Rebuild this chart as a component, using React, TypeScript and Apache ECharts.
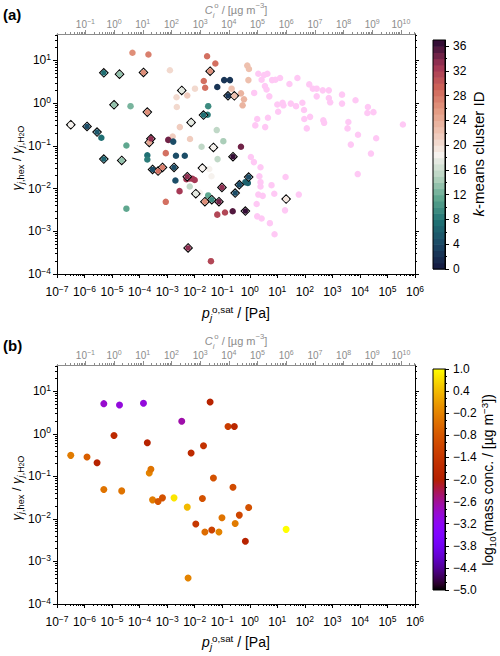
import React, { useEffect, useRef } from 'react';
import * as echarts from 'echarts';

// ---------------- data (stored as log10) ----------------
// Panel (a): compounds drawn in pink (no cluster colour)
const PINK_LOG_P = [0.31, 0.43, 0.52, 0.64, 0.55, 0.61, 0.81, 0.93, 1.1, 0.71, 0.16, 1.44, 1.73, 2.16, 2.29, 2.43, 2.43, 1.0, 1.19, 1.22, 1.49, 1.68, 1.91, 1.97, 1.03, 2.19, 1.98, 2.07, 0.27, 0.66, 0.2, 0.56,
  0.04, 0.15, 0.39, 0.35, 0.39, 0.39, 0.79, 1.3, 0.89, 0.31, 0.47, 0.25, 1.78, 1.28, 0.27, 0.43, 0.73, 0.9,
  2.65, 2.87, 2.87, 2.92, 3.35, 3.35, 3.84, 2.67, 2.7, 3.58, 3.55, 3.93, 3.67, 4.29, 4.27, 4.49, 4.59, 4.4, 5.56, 3.92];
const PINK_LOG_GAMMA = [0.69, 0.55, 0.66, 0.69, 0.4, 0.32, 0.54, 0.55, 0.59, 0.16, 0.24, 0.45, 0.59, 0.44, 0.34, 0.34, 0.16, -0.03, 0.01, -0.05, -0.01, -0.07, 0.01, -0.16, -0.2, -0.32, -0.37, -0.59, -0.37, -0.34, -0.52, -0.56,
  -1.26, -1.38, -1.5, -1.71, -1.85, -1.95, -1.92, -1.73, -2.12, -2.14, -2.17, -2.36, -2.14, -2.51, -2.65, -2.7, -2.81, -3.07,
  0.3, 0.3, 0.12, 0.02, 0.2, -0.01, 0.07, -0.4, -0.46, -0.44, -0.59, -0.74, -0.97, -0.09, -0.23, -0.21, -0.82, -1.18, -0.5, -1.66];

// Panel (a): clustered compounds (plain circles)
const CLUSTER_LOG_P = [-4.26, -3.68, -2.9, -1.55, -1.25, -1.67, -1.62, -2.66, -1.99, -2.27, -2.65, -1.18, -0.93, -0.72, -0.66, -0.32, -0.21, -0.26, -0.09, -0.03,
  -0.05, -1.51, -1.53, -4.33, -5.39, -4.48, -2.54, -2.8, -2.17, -2.96, -2.78, -1.2, -0.96, -1.75, -1.17, -0.32, -3.72, -3.72, -3.05, -2.68,
  -2.36, -2.7, -2.55, -2.3, -2.18, -2.08, -2.0, -2.18, -3.05, -1.51, -1.18, -0.9, -0.62, -1.41, -4.48, -0.16, -0.07, -1.47, -1.39, -1.81];
const CLUSTER_LOG_GAMMA = [1.18, 1.14, 0.77, 1.1, 0.93, 0.52, 0.36, 0.14, 0.34, 0.18, -0.09, 0.38, 0.54, 0.54, 0.34, 0.23, 0.09, -0.05, 0.88, 0.8,
  0.54, -0.07, -0.27, -0.07, -0.81, -0.99, -0.56, -0.78, -0.84, -0.86, -0.9, -0.63, -0.89, -1.02, -1.31, -1.02, -1.22, -1.32, -1.17, -1.23,
  -1.23, -1.81, -2.06, -1.78, -1.76, -1.77, -1.8, -1.95, -2.31, -2.16, -2.61, -2.56, -2.53, -3.7, -2.47, -1.85, -1.87, -1.54, -1.71, -2.1];
const CLUSTER_ID = [26, 27, 20, 28, 28, 28, 28, 20, 20, 21, 20, 2, 2, 2, 22, 23, 23, 23, 22, 22,
  22, 9, 8, 12, 7, 11, 21, 21, 21, 34, 4, 15, 14, 15, 15, 34, 7, 8, 28, 4,
  4, 4, 32, 32, 32, 32, 32, 15, 28, 11, 31, 31, 35, 31, 11, 6, 6, 18, 18, 18];

// Compounds shown as diamonds in (a) and as the points of (b)
const FLAG_LOG_P = [-6.5, -5.91, -5.545, -5.3, -5.3, -4.93, -4.73, -4.65, -3.86, -3.72, -3.65, -3.59, -3.53, -3.33, -3.17, -2.75, -2.47, -2.27, -2.24,
  -2.13, -1.96, -1.72, -1.68, -1.63, -1.44, -1.38, -1.32, -1.12, -1.01, -0.79, -0.61, -0.56, -0.53, -0.38, -0.16, -0.04, 1.32];
const FLAG_LOG_GAMMA = [-0.505, -0.545, -0.677, 0.711, -1.309, -0.037, 0.68, -1.34, 0.72, -0.209, -0.919, -0.833, -1.551, -1.59, -1.504, -1.504, 0.298, -1.722, -3.39,
  -0.451, -2.12, -1.52, -0.279, -2.307, 0.75, -2.26, -1.036, -2.307, -1.972, 0.173, -1.254, 0.173, -2.105, -1.91, -2.526, -1.73, -2.245];
const FLAG_CLUSTER_ID = [18, 4, 5, 7, 6, 13, 13, 13, 26, 26, 24, 33, 4, 28, 27, 4, 17, 33, 33,
  17, 17, 18, 7, 26, 26, 9, 18, 34, 33, 2, 36, 22, 4, 4, 36, 4, 19];
const FLAG_LOG_MASS = [-0.3, -0.7, -1.9, -2.9, -0.4, -1.7, -3.0, -0.4, -3.0, -1.9, -0.2, -0.4, -0.3, -0.8, -0.9, 0.8, -2.7, 0.4, -0.2,
  -1.7, -1.4, -0.9, -1.5, -0.5, -1.9, -1.2, -0.9, -0.2, -0.4, -1.3, -1.0, -1.8, -0.3, -1.1, -1.9, -0.9, 1.0];

// tick labels
const P_TICK_EXP = [-7, -6, -5, -4, -3, -2, -1, 0, 1, 2, 3, 4, 5, 6];
const GAMMA_TICK_EXP = [-4, -3, -2, -1, 0, 1];
const C_TICK_EXP = [-1, 0, 1, 2, 3, 4, 5, 6, 7, 8, 9, 10];
const CLUSTER_TICKS = [0, 4, 8, 12, 16, 20, 24, 28, 32, 36];
const CLUSTER_MINOR_TICKS = [2, 6, 10, 14, 18, 22, 26, 30, 34];
const CLUSTER_LEVELS = [0, 1, 2, 3, 4, 5, 6, 7, 8, 9, 10, 11, 12, 13, 14, 15, 16, 17, 18, 19, 20, 21, 22, 23, 24, 25, 26, 27, 28, 29, 30, 31, 32, 33, 34, 35, 36];
const MASS_TICKS = [1.0, 0.4, -0.2, -0.8, -1.4, -2.0, -2.6, -3.2, -3.8, -4.4, -5.0];
const MASS_MINOR_TICKS = [0.8, 0.6, 0.2, 0.0, -0.4, -0.6, -1.0, -1.2, -1.6, -1.8, -2.2, -2.4, -2.8, -3.0, -3.4, -3.6, -4.0, -4.2, -4.6, -4.8];

// axis ranges (log10)
const P_MIN = -7, P_MAX = 6;
const G_MIN = -4, G_MAX = 1.62;
const C_MIN = -1.99, C_MAX = 10.49;
const CL_MIN = 0, CL_MAX = 37;
const M_MIN = -5, M_MAX = 1;

// ---------------- styling ----------------
const FONT = '"Liberation Sans", Arial, Helvetica, sans-serif';
const GRAY = '#8c8c8c';
const PINK = '#ffc9f5';
const CURL = ['#151d44', '#1c4865', '#1f7174', '#5aa48c', '#b5d3bf', '#f6f2ee', '#efc5b4', '#e39a81', '#cf6458', '#a03455', '#340d35'];
const gnuplot = (t: number) => {
  const r = Math.sqrt(t), g = t * t * t, b = Math.max(0, Math.sin(2 * Math.PI * t));
  return `rgb(${Math.round(r * 255)},${Math.round(g * 255)},${Math.round(b * 255)})`;
};
const GNUPLOT = Array.from({ length: 41 }, (_, i) => gnuplot(i / 40));

const logMinor = (lo: number, hi: number) => {
  const out: number[] = [];
  for (let e = Math.floor(lo) - 1; e <= Math.ceil(hi); e++) {
    for (let k = 2; k <= 9; k++) {
      const v = e + Math.log10(k);
      if (v >= lo - 1e-9 && v <= hi + 1e-9) out.push(v);
    }
  }
  return out;
};

const minus = (s: string) => s.replace('-', '\u2212');
const expLabel = (v: number) => {
  const e = Math.round(v);
  return `{b|10}{s|${minus(String(e))}}`;
};
const massLabel = (v: number) => minus((Math.abs(v) < 1e-9 ? 0 : v).toFixed(1));

const tickRich = (color: string, size = 12, supSize = 8.5, lh = 16, supLh = 6) => ({
  b: { fontSize: size, lineHeight: lh, fontFamily: FONT, color },
  s: { fontSize: supSize, lineHeight: supLh, verticalAlign: 'top', fontFamily: FONT, color },
});

const titleRich = (c: string, size = 14) => ({
  n: { fontSize: size, lineHeight: 18, fontFamily: FONT, fill: c },
  i: { fontSize: size, lineHeight: 18, fontFamily: FONT, fontStyle: 'italic', fill: c },
  sub: { fontSize: size * 0.7, lineHeight: 8, verticalAlign: 'bottom', fontFamily: FONT, fill: c },
  subi: { fontSize: size * 0.7, lineHeight: 8, verticalAlign: 'bottom', fontFamily: FONT, fontStyle: 'italic', fill: c },
  sup: { fontSize: size * 0.7, lineHeight: 8, verticalAlign: 'top', fontFamily: FONT, fill: c },
  sub2: { fontSize: size * 0.5, lineHeight: 2, verticalAlign: 'bottom', fontFamily: FONT, fill: c },
});

function buildOption() {
  const xAxis: any[] = [];
  const yAxis: any[] = [];
  const X = (o: any) => { xAxis.push({ type: 'value', splitLine: { show: false }, ...o }); return xAxis.length - 1; };
  const Y = (o: any) => { yAxis.push({ type: 'value', splitLine: { show: false }, ...o }); return yAxis.length - 1; };
  const line = (color: string, show = true) => ({ show, onZero: false, lineStyle: { color, width: 1 } });
  const ticks = (values: number[], len: number, color: string) => ({ show: true, inside: false, length: len, customValues: values, lineStyle: { color, width: 1 } });
  const noLabel = { show: false };

  const P_MINOR = logMinor(P_MIN, P_MAX);
  const G_MINOR = logMinor(G_MIN, G_MAX);
  const C_MINOR = logMinor(C_MIN, C_MAX);

  const panelX: number[] = [];
  const panelY: number[] = [];
  [0, 1].forEach((g) => {
    panelX.push(X({ gridIndex: g, position: 'bottom', min: P_MIN, max: P_MAX, axisLine: line('#000'), axisTick: ticks(P_TICK_EXP, 4, '#000'),
      axisLabel: { show: true, customValues: P_TICK_EXP, formatter: expLabel, margin: 10, rich: tickRich('#000') } }));
    X({ gridIndex: g, position: 'bottom', min: P_MIN, max: P_MAX, axisLine: line('#000', false), axisTick: ticks(P_MINOR, 2, '#000'), axisLabel: noLabel });
    X({ gridIndex: g, position: 'top', min: C_MIN, max: C_MAX, axisLine: line(GRAY), axisTick: ticks(C_TICK_EXP, 4, GRAY),
      axisLabel: { show: true, customValues: C_TICK_EXP, formatter: expLabel, margin: 4, rich: tickRich(GRAY, 10, 7, 12, 5) } });
    X({ gridIndex: g, position: 'top', min: C_MIN, max: C_MAX, axisLine: line(GRAY, false), axisTick: ticks(C_MINOR, 2, GRAY), axisLabel: noLabel });
    panelY.push(Y({ gridIndex: g, position: 'left', min: G_MIN, max: G_MAX, axisLine: line('#000'), axisTick: ticks(GAMMA_TICK_EXP, 4, '#000'),
      axisLabel: { show: true, customValues: GAMMA_TICK_EXP, formatter: expLabel, margin: 6, rich: tickRich('#000') } }));
    Y({ gridIndex: g, position: 'left', min: G_MIN, max: G_MAX, axisLine: line('#000', false), axisTick: ticks(G_MINOR, 2, '#000'), axisLabel: noLabel });
    Y({ gridIndex: g, position: 'right', min: G_MIN, max: G_MAX, axisLine: line('#000'), axisTick: ticks(GAMMA_TICK_EXP, 4, '#000'), axisLabel: noLabel });
    Y({ gridIndex: g, position: 'right', min: G_MIN, max: G_MAX, axisLine: line('#000', false), axisTick: ticks(G_MINOR, 2, '#000'), axisLabel: noLabel });
  });

  const cbLabel = { show: true, margin: 8, fontSize: 12, fontFamily: FONT, color: '#000' };
  const cbX1 = X({ gridIndex: 2, min: 0, max: 1, show: false });
  const cbY1 = Y({ gridIndex: 2, position: 'right', min: CL_MIN, max: CL_MAX, axisLine: line('#000'), axisTick: ticks(CLUSTER_TICKS, 4, '#000'),
    axisLabel: { ...cbLabel, customValues: CLUSTER_TICKS } });
  Y({ gridIndex: 2, position: 'right', min: CL_MIN, max: CL_MAX, axisLine: line('#000', false), axisTick: ticks(CLUSTER_MINOR_TICKS, 2, '#000'), axisLabel: noLabel });
  const cbX2 = X({ gridIndex: 3, min: 0, max: 1, show: false });
  const cbY2 = Y({ gridIndex: 3, position: 'right', min: M_MIN, max: M_MAX, axisLine: line('#000'), axisTick: ticks(MASS_TICKS, 4, '#000'),
    axisLabel: { ...cbLabel, customValues: MASS_TICKS, formatter: massLabel } });
  Y({ gridIndex: 3, position: 'right', min: M_MIN, max: M_MAX, axisLine: line('#000', false), axisTick: ticks(MASS_MINOR_TICKS, 2, '#000'), axisLabel: noLabel });

  const bandItem = (params: any, api: any) => {
    const v = api.value(1);
    const a = api.coord([0, v]);
    const b = api.coord([1, v + 1]);
    return { type: 'rect', shape: { x: a[0], y: b[1], width: b[0] - a[0], height: a[1] - b[1] + 0.6 }, style: { fill: api.visual('color') } };
  };
  const frameItem = (params: any, api: any) => {
    const a = api.coord([0, api.value(1)]);
    const b = api.coord([1, api.value(2)]);
    return { type: 'rect', shape: { x: a[0], y: b[1], width: b[0] - a[0], height: a[1] - b[1] }, style: { fill: 'none', stroke: '#000', lineWidth: 1 } };
  };
  const gradItem = (params: any, api: any) => {
    const a = api.coord([0, api.value(1)]);
    const b = api.coord([1, api.value(2)]);
    const stops = GNUPLOT.map((c, i) => ({ offset: i / (GNUPLOT.length - 1), color: c }));
    return { type: 'rect', shape: { x: a[0], y: b[1], width: b[0] - a[0], height: a[1] - b[1] },
      style: { fill: new echarts.graphic.LinearGradient(0, 1, 0, 0, stops) } };
  };

  const series: any[] = [
    { type: 'scatter', name: 'unclustered', xAxisIndex: panelX[0], yAxisIndex: panelY[0], silent: true,
      data: PINK_LOG_P.map((p, i) => [p, PINK_LOG_GAMMA[i]]), symbol: 'circle', symbolSize: 6.5, itemStyle: { color: PINK, opacity: 1 } },
    { type: 'scatter', name: 'clustered', xAxisIndex: panelX[0], yAxisIndex: panelY[0], silent: true,
      data: CLUSTER_LOG_P.map((p, i) => [p, CLUSTER_LOG_GAMMA[i], CLUSTER_ID[i]]), symbol: 'circle', symbolSize: 6.5, itemStyle: { opacity: 1 } },
    { type: 'scatter', name: 'flag-frame', xAxisIndex: panelX[0], yAxisIndex: panelY[0], silent: true,
      data: FLAG_LOG_P.map((p, i) => [p, FLAG_LOG_GAMMA[i]]), symbol: 'diamond', symbolSize: 8.5,
      itemStyle: { color: '#ffffff', borderColor: '#000', borderWidth: 1.1, opacity: 1 } },
    { type: 'scatter', name: 'flag-core', xAxisIndex: panelX[0], yAxisIndex: panelY[0], silent: true,
      data: FLAG_LOG_P.map((p, i) => [p, FLAG_LOG_GAMMA[i], FLAG_CLUSTER_ID[i]]), symbol: 'circle', symbolSize: 5.5, itemStyle: { opacity: 1 } },
    { type: 'scatter', name: 'mass', xAxisIndex: panelX[1], yAxisIndex: panelY[1], silent: true,
      data: FLAG_LOG_P.map((p, i) => [p, FLAG_LOG_GAMMA[i], FLAG_LOG_MASS[i]]), symbol: 'circle', symbolSize: 7, itemStyle: { opacity: 1 } },
    { type: 'custom', name: 'cb-cluster', xAxisIndex: cbX1, yAxisIndex: cbY1, silent: true,
      data: CLUSTER_LEVELS.map((v) => [0, v, v]), renderItem: bandItem },
    { type: 'custom', name: 'cb-cluster-frame', xAxisIndex: cbX1, yAxisIndex: cbY1, silent: true, z: 5,
      data: [[0, CL_MIN, CL_MAX]], renderItem: frameItem },
    { type: 'custom', name: 'cb-mass', xAxisIndex: cbX2, yAxisIndex: cbY2, silent: true,
      data: [[0, M_MIN, M_MAX]], renderItem: gradItem },
    { type: 'custom', name: 'cb-mass-frame', xAxisIndex: cbX2, yAxisIndex: cbY2, silent: true, z: 5,
      data: [[0, M_MIN, M_MAX]], renderItem: frameItem },
  ];

  const txt = (x: number, y: number, text: string, rich: any, extra: any = {}) => ({
    type: 'text', x, y, silent: true, ...extra,
    style: { text, rich, align: extra.align || 'center', verticalAlign: 'middle', fontFamily: FONT, fill: '#000' },
  });
  const R = Math.PI / 2;
  const graphic: any[] = [
    txt(3, 14, '{b|(a)}', { b: { fontSize: 15, fontWeight: 'bold', fontFamily: FONT, fill: '#000' } }, { align: 'left' }),
    txt(3, 345, '{b|(b)}', { b: { fontSize: 15, fontWeight: 'bold', fontFamily: FONT, fill: '#000' } }, { align: 'left' }),
    txt(236, 10, '{i|C}{subi|i}{sup|o}{n| / [µg m}{sup|\u22123}{n|]}', titleRich(GRAY, 11)),
    txt(236, 341, '{i|C}{subi|i}{sup|o}{n| / [µg m}{sup|\u22123}{n|]}', titleRich(GRAY, 11)),
    txt(236, 313, '{i|p}{subi|j}{sup|o,sat}{n| / [Pa]}', titleRich('#000', 14)),
    txt(236, 642, '{i|p}{subi|j}{sup|o,sat}{n| / [Pa]}', titleRich('#000', 14)),
    txt(16, 158, '{i|γ}{subi|j}{sub|,hex}{n| / }{i|γ}{subi|j}{sub|,H}{sub2|2}{sub|O}', titleRich('#000', 13), { rotation: R }),
    txt(16, 488, '{i|γ}{subi|j}{sub|,hex}{n| / }{i|γ}{subi|j}{sub|,H}{sub2|2}{sub|O}', titleRich('#000', 13), { rotation: R }),
    txt(478, 154, '{i|k}{n|-means cluster ID}', titleRich('#000', 15), { rotation: R }),
    txt(488, 480, '{n|log}{sub|10}{n|(mass conc. / [µg m}{sup|\u22123}{n|])}', titleRich('#000', 14), { rotation: R }),
  ];

  return {
    animation: false,
    backgroundColor: '#ffffff',
    textStyle: { fontFamily: FONT },
    grid: [
      { left: 57, top: 34, width: 358, height: 240, outerBoundsMode: 'none', containLabel: false },
      { left: 57, top: 365, width: 358, height: 239, outerBoundsMode: 'none', containLabel: false },
      { left: 433, top: 40, width: 12, height: 229, outerBoundsMode: 'none', containLabel: false },
      { left: 433, top: 369, width: 12, height: 221, outerBoundsMode: 'none', containLabel: false },
    ],
    xAxis,
    yAxis,
    visualMap: [
      { type: 'continuous', show: false, min: 0, max: 36, dimension: 2, seriesIndex: [1, 3, 5], inRange: { color: CURL } },
      { type: 'continuous', show: false, min: M_MIN, max: M_MAX, dimension: 2, seriesIndex: [4], inRange: { color: GNUPLOT } },
    ],
    series,
    graphic,
  };
}

export default function App() {
  const ref = useRef<HTMLDivElement>(null);
  useEffect(() => {
    document.body.style.margin = '0';
    const chart = echarts.init(ref.current as HTMLDivElement, null, { renderer: 'svg', width: 500, height: 656 });
    chart.setOption(buildOption() as any);
    return () => chart.dispose();
  }, []);
  return <div ref={ref} style={{ width: 500, height: 656 }} />;
}
